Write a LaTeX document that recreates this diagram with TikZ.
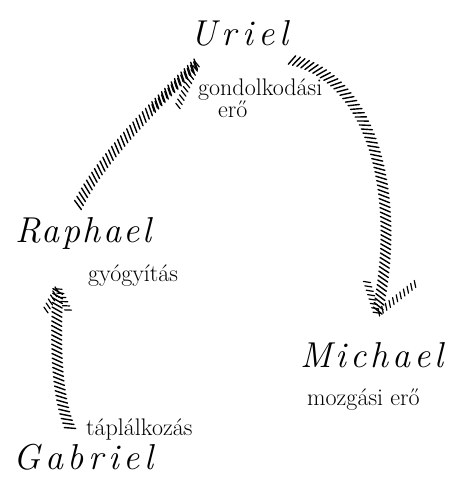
\documentclass[tikz,border=0pt]{standalone}
\usepackage{fontspec}
\setmainfont{Latin Modern Roman}
\usetikzlibrary{decorations.markings}
\tikzset{
  hand/.style={font=\fontsize{36}{40}\selectfont\itshape, inner sep=0pt, anchor=base west},
  lbl/.style={font=\fontsize{24}{26}\selectfont, inner sep=0pt, anchor=base west},
  hatch/.style={decoration={markings,
      mark=between positions 0 and 1 step 4.6pt with
      {\draw[line width=1.4pt, line cap=round] (-2.6pt,-5pt) -- (2.6pt,5pt);}},
    decorate},
  hatchthin/.style={decoration={markings,
      mark=between positions 0 and 1 step 4.6pt with
      {\draw[line width=1.2pt, line cap=round] (-1.6pt,-3.2pt) -- (1.6pt,3.2pt);}},
    decorate},
}
\begin{document}
\begin{tikzpicture}[x=1pt,y=-1pt]
\useasboundingbox (0,0) rectangle (449,493);
% names
\node[hand] (uriel) at (190,45) {\addfontfeature{LetterSpace=15}Uriel};
\node[hand] (raphael) at (15,242) {\addfontfeature{LetterSpace=7}Raphael};
\node[hand] (gabriel) at (13,469) {\addfontfeature{LetterSpace=13}Gabriel};
\node[hand] (michael) at (300,367) {\addfontfeature{LetterSpace=11}Michael};
% labels
\node[lbl] (gond) at (198,95) {gondolkodási};
\node[lbl] (ero1) at (218,117) {erő};
\node[lbl] (gyogy) at (88,281) {gyógyítás};
\node[lbl] (tapl) at (86,435) {táplálkozás};
\node[lbl] (mozg) at (307,405) {mozgási erő};
% arrow end points
\coordinate (g1) at (70,428);
\coordinate (g2) at (58,288);
\coordinate (r1) at (78,205);
\coordinate (r2) at (198,62);
\coordinate (u1) at (292,60);
\coordinate (m1) at (377,314);
% Gabriel -> Raphael
\path[hatch] (g1) .. controls (54,390) and (56,330) .. (g2);
\path[hatchthin] ([shift={(-12,22)}]g2) -- (g2);
\path[hatchthin] ([shift={(10,22)}]g2) -- (g2);
% Raphael -> Uriel
\path[hatch] (r1) .. controls (100,160) and (150,110) .. (r2);
\path[hatchthin] ([shift={(-45,46)}]r2) -- (r2);
\path[hatchthin] ([shift={(-20,44)}]r2) -- (r2);
% Uriel -> Michael
\path[hatch] (u1) .. controls (375,80) and (402,200) .. (m1);
\path[hatchthin] ([shift={(-10,-32)}]m1) -- (m1);
\path[hatchthin] ([shift={(38,-30)}]m1) -- (m1);
\end{tikzpicture}
\end{document}
